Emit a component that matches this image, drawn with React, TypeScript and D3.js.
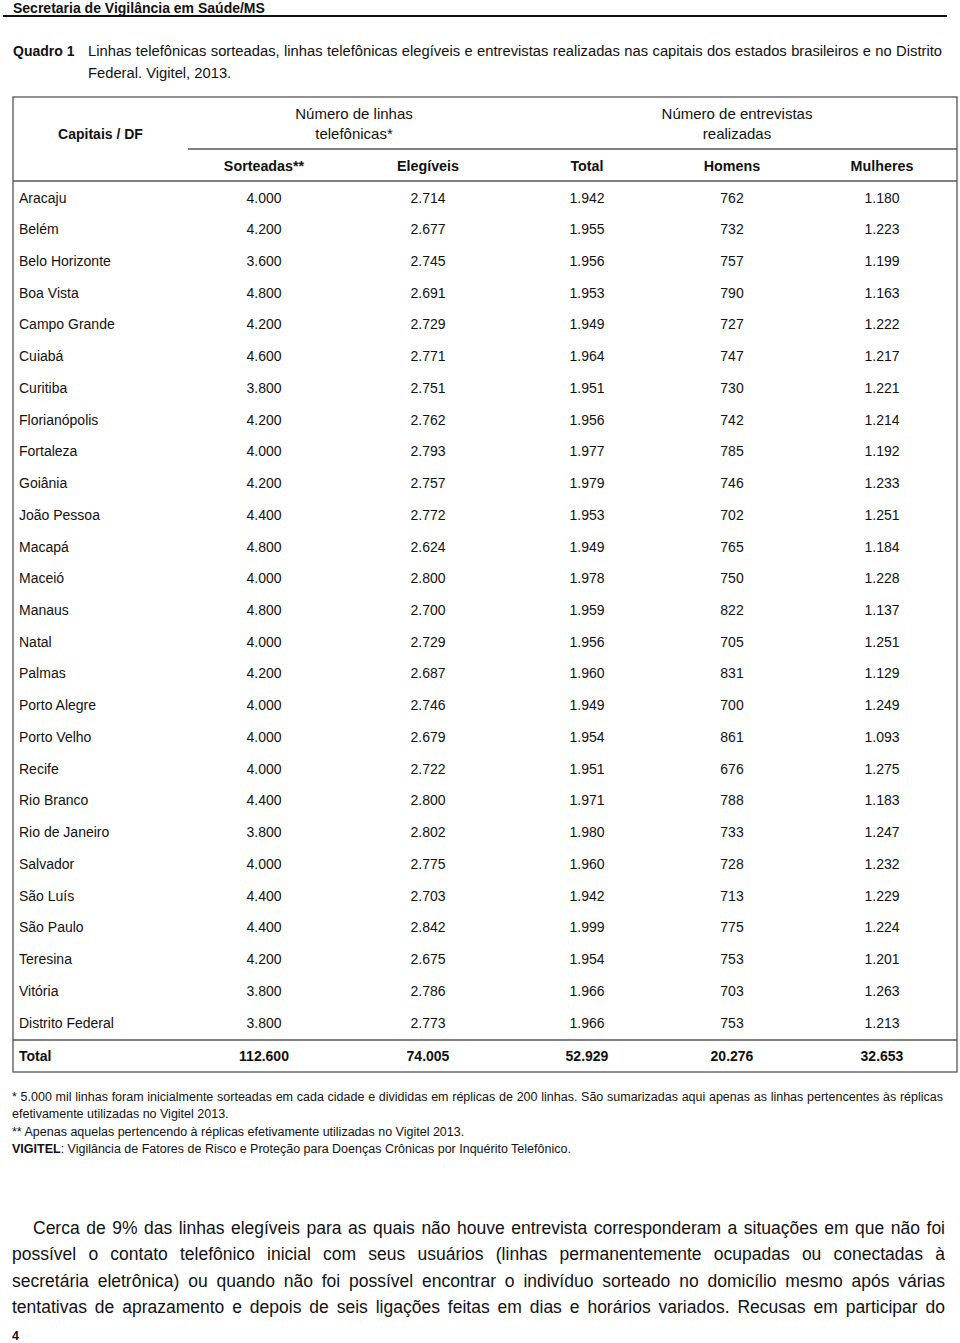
import React, { useMemo } from 'react';
import * as d3 from 'd3';

const capitals = [
  'Aracaju', 'Belém', 'Belo Horizonte', 'Boa Vista', 'Campo Grande', 'Cuiabá', 'Curitiba',
  'Florianópolis', 'Fortaleza', 'Goiânia', 'João Pessoa', 'Macapá', 'Maceió', 'Manaus', 'Natal',
  'Palmas', 'Porto Alegre', 'Porto Velho', 'Recife', 'Rio Branco', 'Rio de Janeiro', 'Salvador',
  'São Luís', 'São Paulo', 'Teresina', 'Vitória', 'Distrito Federal',
];
const sorteadas = [4000, 4200, 3600, 4800, 4200, 4600, 3800, 4200, 4000, 4200, 4400, 4800, 4000, 4800, 4000, 4200, 4000, 4000, 4000, 4400, 3800, 4000, 4400, 4400, 4200, 3800, 3800];
const elegiveis = [2714, 2677, 2745, 2691, 2729, 2771, 2751, 2762, 2793, 2757, 2772, 2624, 2800, 2700, 2729, 2687, 2746, 2679, 2722, 2800, 2802, 2775, 2703, 2842, 2675, 2786, 2773];
const totalEntrevistas = [1942, 1955, 1956, 1953, 1949, 1964, 1951, 1956, 1977, 1979, 1953, 1949, 1978, 1959, 1956, 1960, 1949, 1954, 1951, 1971, 1980, 1960, 1942, 1999, 1954, 1966, 1966];
const homens = [762, 732, 757, 790, 727, 747, 730, 742, 785, 746, 702, 765, 750, 822, 705, 831, 700, 861, 676, 788, 733, 728, 713, 775, 753, 703, 753];
const mulheres = [1180, 1223, 1199, 1163, 1222, 1217, 1221, 1214, 1192, 1233, 1251, 1184, 1228, 1137, 1251, 1129, 1249, 1093, 1275, 1183, 1247, 1232, 1229, 1224, 1201, 1263, 1213];
const totalRowLabel = 'Total';
const totalRow = [112600, 74005, 52929, 20276, 32653];

const columnKeys = ['sorteadas', 'elegiveis', 'total', 'homens', 'mulheres'];
const columnHeaders = ['Sorteadas**', 'Elegíveis', 'Total', 'Homens', 'Mulheres'];
const groupHeaders = [
  ['Número de linhas', 'telefônicas*'],
  ['Número de entrevistas', 'realizadas'],
];
const rowHeader = 'Capitais / DF';

const pageHeader = 'Secretaria de Vigilância em Saúde/MS';
const captionLabel = 'Quadro 1';
const captionLine1 = 'Linhas telefônicas sorteadas, linhas telefônicas elegíveis e entrevistas realizadas nas capitais dos estados brasileiros e no Distrito';
const captionLine2 = 'Federal. Vigitel, 2013.';
const footnote1a = '* 5.000 mil linhas foram inicialmente sorteadas em cada cidade e divididas em réplicas de 200 linhas. São sumarizadas aqui apenas as linhas pertencentes às réplicas';
const footnote1b = 'efetivamente utilizadas no Vigitel 2013.';
const footnote2 = '** Apenas aquelas pertencendo à réplicas efetivamente utilizadas no Vigitel 2013.';
const footnote3Bold = 'VIGITEL';
const footnote3 = ': Vigilância de Fatores de Risco e Proteção para Doenças Crônicas por Inquérito Telefônico.';
const paragraphLines = [
  'Cerca de 9% das linhas elegíveis para as quais não houve entrevista corresponderam a situações em que não foi',
  'possível o contato telefônico inicial com seus usuários (linhas permanentemente ocupadas ou conectadas à',
  'secretária eletrônica) ou quando não foi possível encontrar o indivíduo sorteado no domicílio mesmo após várias',
  'tentativas de aprazamento e depois de seis ligações feitas em dias e horários variados. Recusas em participar do',
];
const pageNumber = '4';

const FONT = "'Liberation Sans', Arial, Helvetica, sans-serif";
const locale = d3.formatLocale({ decimal: ',', thousands: '.', grouping: [3], currency: ['R$', ''] });
const fmt = locale.format(',d');

let measureCtx: CanvasRenderingContext2D | null = null;
function ctxFor(font: string) {
  if (!measureCtx) measureCtx = document.createElement('canvas').getContext('2d');
  measureCtx!.font = font;
  return measureCtx!;
}
function naturalWidth(text: string, size: number, weight = 'normal') {
  return ctxFor(`${weight} ${size}px ${FONT}`).measureText(text).width;
}
// font size at which the line's natural width fills the space
function fitSize(lines: { text: string; width: number }[], ref = 20) {
  return d3.min(lines, (l) => (ref * l.width) / naturalWidth(l.text, ref)) as number;
}
function justify(text: string, font: string, x0: number, x1: number) {
  const ctx = ctxFor(font);
  const words = text.split(' ');
  const widths = words.map((w) => ctx.measureText(w).width);
  const sum = d3.sum(widths);
  const gap = words.length > 1 ? (x1 - x0 - sum) / (words.length - 1) : 0;
  let x = x0;
  return words.map((w, i) => {
    const r = { w, x };
    x += widths[i] + gap;
    return r;
  });
}

function JustifiedLine({ text, x0, x1, y, size, weight = 'normal' }: any) {
  const words = useMemo(
    () => justify(text, `${weight} ${size}px ${FONT}`, x0, x1),
    [text, x0, x1, size, weight]
  );
  return (
    <text y={y} fontSize={size} fontWeight={weight} fontFamily={FONT} fill="#111">
      {words.map((d, i) => (
        <tspan key={i} x={d.x}>{d.w}</tspan>
      ))}
    </text>
  );
}

export default function App() {
  const W = 960;
  const H = 1343;
  const tableLeft = 13;
  const tableRight = 957;
  const tableTop = 97;
  const groupLineY = 149;
  const headerBottom = 181;
  const totalLineY = 1040;
  const tableBottom = 1072;

  const y = d3.scalePoint<string>().domain(capitals).range([197.5, 1022.5]);
  const x = d3.scaleOrdinal<string, number>().domain(columnKeys).range([264, 428, 587, 732, 882]);
  const columns = [sorteadas, elegiveis, totalEntrevistas, homens, mulheres];
  const groupCenters = [354, 737];
  const fs = 14;
  const off = 5;

  const paraX0 = (i: number) => (i === 0 ? 33 : 12);
  const paraSize = useMemo(
    () => Math.min(17.5, fitSize(paragraphLines.map((t, i) => ({ text: t, width: 945 - paraX0(i) }))) * 0.992),
    []
  );
  const captionSize = useMemo(
    () => Math.min(15, fitSize([{ text: captionLine1, width: 942 - 88 }]) * 0.995),
    []
  );
  const footSize = 12.5;

  return (
    <svg width={W} height={H} style={{ position: 'absolute', left: 0, top: 0, background: '#fff' }} fontFamily={FONT}>
      <rect width={W} height={H} fill="#fff" />
      {/* page header */}
      <text x={13} y={12.5} fontSize={14} fontWeight="bold" fill="#111">{pageHeader}</text>
      <line x1={3} x2={947} y1={16} y2={16} stroke="#111" strokeWidth={2} />

      {/* caption */}
      <text x={13} y={56} fontSize={14} fontWeight="bold" fill="#111">{captionLabel}</text>
      <JustifiedLine text={captionLine1} x0={88} x1={942} y={56} size={captionSize} />
      <text x={88} y={78} fontSize={captionSize} fill="#111">{captionLine2}</text>

      {/* table frame */}
      <rect x={tableLeft} y={tableTop} width={tableRight - tableLeft} height={tableBottom - tableTop}
        fill="none" stroke="#555" strokeWidth={1.3} />
      <line x1={188} x2={tableRight} y1={groupLineY} y2={groupLineY} stroke="#555" strokeWidth={1.3} />
      <line x1={tableLeft} x2={tableRight} y1={headerBottom} y2={headerBottom} stroke="#555" strokeWidth={1.3} />
      <line x1={tableLeft} x2={tableRight} y1={totalLineY} y2={totalLineY} stroke="#555" strokeWidth={1.3} />

      {/* headers */}
      <text x={100.5} y={138.5} fontSize={fs} fontWeight="bold" textAnchor="middle" fill="#111">{rowHeader}</text>
      {groupHeaders.map((g, i) => (
        <g key={i}>
          <text x={groupCenters[i]} y={118.5} fontSize={15} textAnchor="middle" fill="#111">{g[0]}</text>
          <text x={groupCenters[i]} y={138.5} fontSize={15} textAnchor="middle" fill="#111">{g[1]}</text>
        </g>
      ))}
      {columnKeys.map((k, i) => (
        <text key={k} x={x(k)} y={171} fontSize={14.3} fontWeight="bold" textAnchor="middle" fill="#111">
          {columnHeaders[i]}
        </text>
      ))}

      {/* body */}
      {capitals.map((c, r) => (
        <g key={c}>
          <text x={19} y={(y(c) as number) + off} fontSize={fs} fill="#111">{c}</text>
          {columnKeys.map((k, j) => (
            <text key={k} x={x(k)} y={(y(c) as number) + off} fontSize={fs} textAnchor="middle" fill="#111">
              {fmt(columns[j][r])}
            </text>
          ))}
        </g>
      ))}

      {/* total row */}
      <text x={19} y={1061} fontSize={fs} fontWeight="bold" fill="#111">{totalRowLabel}</text>
      {columnKeys.map((k, j) => (
        <text key={k} x={x(k)} y={1061} fontSize={fs} fontWeight="bold" textAnchor="middle" fill="#111">
          {fmt(totalRow[j])}
        </text>
      ))}

      {/* footnotes */}
      <JustifiedLine text={footnote1a} x0={12} x1={943} y={1101} size={footSize} />
      <text x={12} y={1118} fontSize={footSize} fill="#111">{footnote1b}</text>
      <text x={12} y={1136} fontSize={footSize} fill="#111">{footnote2}</text>
      <text x={12} y={1153} fontSize={footSize} fill="#111">
        <tspan fontWeight="bold">{footnote3Bold}</tspan>
        <tspan>{footnote3}</tspan>
      </text>

      {/* paragraph */}
      {paragraphLines.map((l, i) => (
        <JustifiedLine key={i} text={l} x0={paraX0(i)} x1={945} y={1234 + i * 26.4} size={paraSize} />
      ))}

      <text x={12} y={1340} fontSize={12.5} fontWeight="bold" fill="#111">{pageNumber}</text>
    </svg>
  );
}
